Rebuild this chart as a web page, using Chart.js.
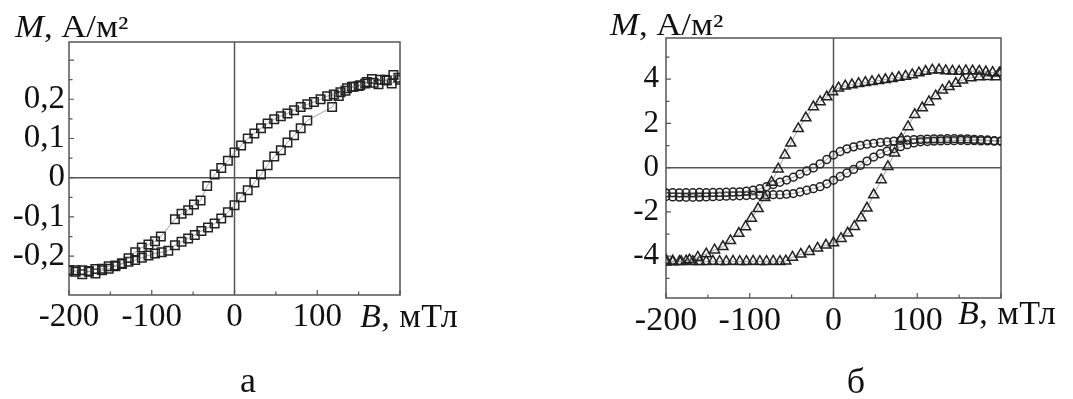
<!DOCTYPE html>
<html>
<head>
<meta charset="utf-8">
<script src="https://cdn.jsdelivr.net/npm/chart.js@4.4.1/dist/chart.umd.min.js"></script>
<style>
body { margin: 0; background: #fff; width: 1073px; height: 399px; overflow: hidden; position: relative;
  font-family: "Liberation Serif", "Times New Roman", serif; color: #111; }
.box { position: absolute; top: 0; height: 399px; }
#boxA { left: 0; width: 530px; }
#boxB { left: 540px; width: 533px; }
.txt { position: absolute; white-space: nowrap; line-height: 1; transform-origin: 0 0; }
.ttl { font-size: 31px; transform: scaleX(1.12); }
.bt { font-size: 34px; letter-spacing: 0.5px; }
.pl { font-size: 36px; width: 40px; text-align: center; }
</style>
</head>
<body>
<div class="box" id="boxA"><canvas id="chartA"></canvas></div>
<div class="box" id="boxB"><canvas id="chartB"></canvas></div>

<div class="txt ttl" style="left:15px; top:11px;"><i>M</i>, А/м²</div>
<div class="txt ttl" style="left:610px; top:9px;"><i>M</i>, А/м²</div>
<div class="txt bt" style="left:360px; top:299px;"><i>B</i>, мТл</div>
<div class="txt bt" style="left:958px; top:296px;"><i>B</i>, мТл</div>
<div class="txt pl" style="left:228px; top:362px;">а</div>
<div class="txt pl" style="left:836px; top:363px;">б</div>

<script>
'use strict';

// ---- panel а : squares ----
let fieldA_down = [200, 192, 184, 176, 168, 160, 152, 144, 136, 128, 120, 112, 104, 96, 88, 80, 72, 64, 56, 48,
  40, 32, 24, 16, 8, 0, -8, -16, -24, -33, -41, -49, -56, -64, -72, -89, -96, -104, -112, -120,
  -128, -136, -144, -152, -160, -168, -176, -184, -192, -200];
let momentA_down = [0.25, 0.262, 0.248, 0.25, 0.242, 0.244, 0.236, 0.232, 0.228, 0.218, 0.212, 0.208, 0.2, 0.193, 0.187, 0.18, 0.172, 0.164, 0.157, 0.149,
  0.138, 0.126, 0.113, 0.1, 0.082, 0.064, 0.043, 0.025, 0.008, -0.021, -0.058, -0.068, -0.083, -0.092, -0.106, -0.15, -0.162, -0.17, -0.178, -0.19,
  -0.205, -0.218, -0.224, -0.226, -0.232, -0.233, -0.24, -0.236, -0.236, -0.236];

let fieldA_up = [-200, -192, -184, -176, -168, -160, -152, -144, -136, -128, -120, -112, -104, -96, -88, -80, -72, -64, -56, -48,
  -40, -32, -24, -16, -8, 0, 8, 16, 24, 32, 40, 48, 56, 64, 72, 80, 88, 118, 126, 134,
  142, 150, 158, 166, 174, 182, 190, 198];
let momentA_up = [-0.236, -0.24, -0.246, -0.238, -0.244, -0.236, -0.232, -0.226, -0.22, -0.214, -0.21, -0.204, -0.198, -0.193, -0.19, -0.186, -0.172, -0.163, -0.155, -0.146,
  -0.136, -0.127, -0.117, -0.104, -0.088, -0.07, -0.05, -0.032, -0.012, 0.008, 0.032, 0.054, 0.07, 0.09, 0.108, 0.126, 0.146, 0.18, 0.208, 0.222,
  0.232, 0.234, 0.24, 0.252, 0.238, 0.25, 0.24, 0.255];

let xTicksA = [-200, -100, 0, 100, 200];
let xTickLabelsA = ['-200', '-100', '0', '100', ''];
let xMinorA = [-150, -50, 50, 150];
let yTicksA = [-0.2, -0.1, 0, 0.1, 0.2, 0.3];
let yTickLabelsA = ['-0,2', '-0,1', '0', '0,1', '0,2', ''];
let yMinorA = [-0.25, -0.15, -0.05, 0.05, 0.15, 0.25];

// ---- panel б : triangles and circles ----
let fieldTri_down = [198, 190, 182, 174, 166, 158, 150, 142, 134, 126, 118, 110, 102, 94, 86, 78, 70, 62, 54, 46,
  38, 30, 22, 14, 6, -1, -8, -16, -24, -33, -42, -51, -58, -66, -74, -82, -90, -98, -105, -113,
  -123, -132, -142, -152, -162, -172, -182, -192, -200];
let momentTri_down = [4.28, 4.3, 4.33, 4.36, 4.37, 4.38, 4.35, 4.36, 4.38, 4.42, 4.41, 4.35, 4.28, 4.2, 4.13, 4.08, 4.03, 3.98, 3.94, 3.89,
  3.85, 3.8, 3.74, 3.69, 3.6, 3.43, 3.2, 2.98, 2.75, 2.25, 1.76, 1.11, 0.57, -0.06, -0.66, -1.35, -1.85, -2.29, -2.67, -2.97,
  -3.3, -3.57, -3.72, -3.9, -4.05, -4.17, -4.24, -4.26, -4.27];

let fieldTri_up = [-200, -192, -184, -176, -168, -160, -152, -144, -136, -128, -120, -112, -104, -96, -88, -80, -72, -64, -57, -49,
  -39, -29, -19, -9, 0, 9, 17, 25, 33, 40, 48, 57, 65, 73, 81, 89, 97, 106, 114, 122,
  130, 138, 146, 154, 164, 174, 184, 194, 200];
let momentTri_up = [-4.18, -4.22, -4.24, -4.22, -4.24, -4.24, -4.24, -4.23, -4.24, -4.24, -4.23, -4.24, -4.24, -4.23, -4.24, -4.24, -4.23, -4.24, -4.22, -4.05,
  -3.91, -3.79, -3.64, -3.5, -3.4, -3.2, -2.96, -2.66, -2.27, -1.83, -1.23, -0.55, 0.05, 0.66, 1.3, 1.85, 2.4, 2.7, 2.98, 3.24,
  3.5, 3.66, 3.81, 3.96, 4.06, 4.1, 4.12, 4.1, 4.3];

let fieldCirc_down = [200, 192, 184, 176, 168, 160, 152, 144, 136, 128, 120, 112, 104, 96, 88, 80, 72, 64, 56, 48,
  40, 32, 24, 16, 8, 0, -8, -16, -24, -32, -40, -48, -56, -64, -72, -80, -88, -96, -104, -112,
  -120, -128, -136, -144, -152, -160, -168, -176, -184, -192, -200];
let momentCirc_down = [1.2, 1.22, 1.25, 1.27, 1.28, 1.3, 1.3, 1.31, 1.31, 1.3, 1.3, 1.29, 1.28, 1.27, 1.25, 1.23, 1.2, 1.17, 1.14, 1.1,
  1.06, 1.01, 0.94, 0.85, 0.73, 0.57, 0.37, 0.17, -0.01, -0.15, -0.29, -0.43, -0.56, -0.66, -0.76, -0.86, -0.95, -1.02, -1.06, -1.09,
  -1.1, -1.11, -1.12, -1.12, -1.13, -1.12, -1.13, -1.13, -1.14, -1.13, -1.14];

let fieldCirc_up = [-200, -192, -184, -176, -168, -160, -152, -144, -136, -128, -120, -112, -104, -96, -88, -80, -72, -64, -56, -48,
  -40, -32, -24, -16, -8, 0, 8, 16, 24, 32, 40, 48, 56, 64, 72, 80, 88, 96, 104, 112,
  120, 128, 136, 144, 152, 160, 168, 176, 184, 192, 200];
let momentCirc_up = [-1.3, -1.32, -1.33, -1.34, -1.34, -1.33, -1.32, -1.31, -1.3, -1.29, -1.28, -1.27, -1.26, -1.25, -1.24, -1.23, -1.22, -1.22, -1.2, -1.17,
  -1.1, -1.02, -0.95, -0.86, -0.73, -0.57, -0.4, -0.24, -0.08, 0.1, 0.3, 0.48, 0.63, 0.75, 0.86, 0.95, 1.04, 1.12, 1.17, 1.18,
  1.2, 1.21, 1.22, 1.22, 1.23, 1.22, 1.22, 1.21, 1.21, 1.2, 1.2];

let xTicksB = [-200, -100, 0, 100, 200];
let xTickLabelsB = ['-200', '-100', '0', '100', ''];
let xMinorB = [-150, -50, 50, 150];
let yTicksB = [-4, -2, 0, 2, 4];
let yTickLabelsB = ['-4', '-2', '0', '2', '4'];
let yMinorB = [-5, -3, -1, 1, 3, 5];

function points(xs, ys) {
  return xs.map((x, i) => ({ x: x, y: ys[i] }));
}

// frame, zero lines and inward tick marks
const framePlugin = {
  id: 'frame',
  beforeDatasetsDraw(chart, args, opts) {
    const ctx = chart.ctx;
    const a = chart.chartArea;
    const sx = chart.scales.x;
    const sy = chart.scales.y;
    ctx.save();
    ctx.strokeStyle = '#555';
    ctx.lineWidth = 1.5;
    // zero lines
    ctx.beginPath();
    ctx.moveTo(sx.getPixelForValue(0), a.top);
    ctx.lineTo(sx.getPixelForValue(0), a.bottom);
    ctx.moveTo(a.left, sy.getPixelForValue(0));
    ctx.lineTo(a.right, sy.getPixelForValue(0));
    ctx.stroke();
    // ticks
    ctx.lineWidth = 1.2;
    ctx.beginPath();
    opts.xMajor.forEach(v => { const p = sx.getPixelForValue(v); ctx.moveTo(p, a.bottom); ctx.lineTo(p, a.bottom - 5); });
    opts.xMinor.forEach(v => { const p = sx.getPixelForValue(v); ctx.moveTo(p, a.bottom); ctx.lineTo(p, a.bottom - 3.5); });
    opts.yMajor.forEach(v => { const p = sy.getPixelForValue(v); ctx.moveTo(a.left, p); ctx.lineTo(a.left + 5, p); });
    opts.yMinor.forEach(v => { const p = sy.getPixelForValue(v); ctx.moveTo(a.left, p); ctx.lineTo(a.left + 3.5, p); });
    ctx.stroke();
    // frame
    ctx.lineWidth = 1.5;
    ctx.strokeRect(a.left, a.top, a.right - a.left, a.bottom - a.top);
    ctx.restore();
  }
};

function series(data, style, radius) {
  return {
    data: data,
    showLine: true,
    borderColor: '#888',
    borderWidth: 0.8,
    pointStyle: style,
    pointRadius: radius,
    pointBorderColor: '#222',
    pointBorderWidth: 1.5,
    pointBackgroundColor: 'rgba(0,0,0,0)'
  };
}

function makeChart(id, datasets, cfg) {
  return new Chart(document.getElementById(id), {
    type: 'scatter',
    data: { datasets: datasets },
    options: {
      responsive: true,
      maintainAspectRatio: false,
      animation: false,
      layout: { padding: cfg.padding },
      plugins: {
        legend: { display: false },
        tooltip: { enabled: false },
        frame: { xMajor: cfg.xTicks, xMinor: cfg.xMinor, yMajor: cfg.yTicks, yMinor: cfg.yMinor }
      },
      scales: {
        x: {
          type: 'linear', min: -200, max: 200,
          grid: { display: false, drawTicks: false },
          border: { display: false },
          afterBuildTicks: s => { s.ticks = cfg.xTicks.map(v => ({ value: v })); },
          afterFit: s => { s.height = 60; },
          ticks: {
            padding: cfg.xPad, color: '#111', maxRotation: 0, autoSkip: false,
            font: { family: 'Liberation Serif', size: cfg.xFont },
            callback: (v, i) => cfg.xLabels[i]
          }
        },
        y: {
          type: 'linear', min: cfg.yMin, max: cfg.yMax,
          grid: { display: false, drawTicks: false },
          border: { display: false },
          afterBuildTicks: s => { s.ticks = cfg.yTicks.map(v => ({ value: v })); },
          afterFit: s => { s.width = cfg.yWidth; },
          ticks: {
            padding: cfg.yPad, color: '#111', autoSkip: false,
            font: { family: 'Liberation Serif', size: cfg.yFont },
            callback: (v, i) => cfg.yLabels[i]
          }
        }
      }
    },
    plugins: [framePlugin]
  });
}

makeChart('chartA', [
  series(points(fieldA_down, momentA_down), 'rect', 6),
  series(points(fieldA_up, momentA_up), 'rect', 6)
], {
  padding: { left: 0, top: 42, right: 130, bottom: 44 },
  yWidth: 69, yMin: -0.299, yMax: 0.346,
  xTicks: xTicksA, xLabels: xTickLabelsA, xMinor: xMinorA,
  yTicks: yTicksA, yLabels: yTickLabelsA, yMinor: yMinorA,
  xPad: 3, yPad: 4, xFont: 33, yFont: 33
});

makeChart('chartB', [
  series(points(fieldTri_down, momentTri_down), 'triangle', 5.8),
  series(points(fieldTri_up, momentTri_up), 'triangle', 5.8),
  series(points(fieldCirc_down, momentCirc_down), 'circle', 3.9),
  series(points(fieldCirc_up, momentCirc_up), 'circle', 3.9)
], {
  padding: { left: 0, top: 38, right: 72, bottom: 41 },
  yWidth: 126, yMin: -5.89, yMax: 5.86,
  xTicks: xTicksB, xLabels: xTickLabelsB, xMinor: xMinorB,
  yTicks: yTicksB, yLabels: yTickLabelsB, yMinor: yMinorB,
  xPad: 3, yPad: 7, xFont: 34, yFont: 31
});
</script>
</body>
</html>
